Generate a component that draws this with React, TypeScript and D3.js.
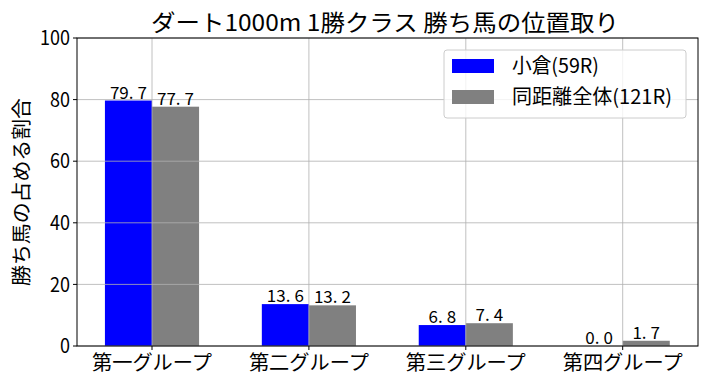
import React from "react";
import * as d3 from "d3";

const categories = ["第一グループ", "第二グループ", "第三グループ", "第四グループ"];
const seriesNames = ["小倉(59R)", "同距離全体(121R)"];
const kokura = [79.7, 13.6, 6.8, 0.0];
const overall = [77.7, 13.2, 7.4, 1.7];
const yTicks = [0, 20, 40, 60, 80, 100];
const colors = ["#0000ff", "#808080"];
const title = "ダート1000m 1勝クラス 勝ち馬の位置取り";
const yLabel = "勝ち馬の占める割合";

const W = 706, H = 386;
const L = 77, R = 698, T = 38, B = 346;
const FONT = "'Noto Sans CJK JP', sans-serif";

export default function App() {
  const x = d3.scaleLinear().domain([0, 3]).range([152, 622.7]);
  const y = d3.scaleLinear().domain([0, 100]).range([B, T]);
  const bw = 0.3;
  const series = [kokura, overall];
  return (
    <svg width={W} height={H} style={{ position: "absolute", left: 0, top: 0 }} fontFamily={FONT}>
      <rect width={W} height={H} fill="white" />
      {series.map((vals, si) =>
        vals.map((v, i) => {
          const x0 = x(i + (si - 1) * bw);
          const x1 = x(i + si * bw);
          return (
            <rect key={`b${si}-${i}`} x={x0} y={y(v)} width={x1 - x0} height={B - y(v)} fill={colors[si]} />
          );
        })
      )}
      {yTicks.map((t) => (
        <line key={`gy${t}`} x1={L} x2={R} y1={y(t)} y2={y(t)} stroke="#b0b0b0" strokeWidth={0.8} />
      ))}
      {categories.map((c, i) => (
        <line key={`gx${i}`} x1={x(i)} x2={x(i)} y1={T} y2={B} stroke="#b0b0b0" strokeWidth={0.8} />
      ))}
      {series.map((vals, si) =>
        vals.map((v, i) => {
          const s = v.toFixed(1);
          const [a, b] = s.split(".");
          return (
            <text key={`l${si}-${i}`} x={x(i + (si - 0.5) * bw)} y={y(v) - 2} textAnchor="middle" fontSize={17} fill="#000">
              {a + "."}
              <tspan dx={4}>{b}</tspan>
            </text>
          );
        })
      )}
      <rect x={L} y={T} width={R - L} height={B - T} fill="none" stroke="#000" strokeWidth={1} />
      {yTicks.map((t) => (
        <g key={`ty${t}`}>
          <line x1={L - 4} x2={L} y1={y(t)} y2={y(t)} stroke="#000" />
          <text x={L - 7} y={y(t)} dy="0.36em" textAnchor="end" fontSize={20}
            textLength={String(t).length * 10} lengthAdjust="spacingAndGlyphs">{t}</text>
        </g>
      ))}
      {categories.map((c, i) => (
        <g key={`tx${i}`}>
          <line x1={x(i)} x2={x(i)} y1={B} y2={B + 4} stroke="#000" />
          <text x={x(i)} y={B + 24} textAnchor="middle" fontSize={20} textLength={120} lengthAdjust="spacingAndGlyphs">{c}</text>
        </g>
      ))}
      <text x={385} y={31} textAnchor="middle" fontSize={23} textLength={468} lengthAdjust="spacingAndGlyphs">{title}</text>
      <text transform={`translate(29,${(T + B) / 2}) rotate(-90)`} textAnchor="middle" fontSize={20}
        textLength={188} lengthAdjust="spacingAndGlyphs">{yLabel}</text>
      <g>
        <rect x={444} y={50} width={242} height={68} rx={3} fill="white" fillOpacity={0.8} stroke="#cccccc" />
        {seriesNames.map((n, i) => (
          <g key={`lg${i}`}>
            <rect x={452} y={59 + i * 31} width={42} height={14} fill={colors[i]} />
            <text x={512} y={66 + i * 31} dy="0.36em" fontSize={20}
              textLength={i === 0 ? 87 : 160} lengthAdjust="spacingAndGlyphs">{n}</text>
          </g>
        ))}
      </g>
    </svg>
  );
}
